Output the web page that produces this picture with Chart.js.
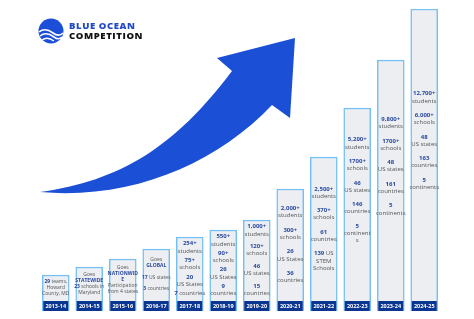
<!DOCTYPE html>
<html>
<head>
<meta charset="utf-8">
<script src="https://cdn.jsdelivr.net/npm/chart.js@4"></script>
<style>
  body { margin: 0; background: #fff; }
  #wrap { position: relative; width: 474px; height: 319px; }
  #logo { position: absolute; left: 38px; top: 18px; display: flex; align-items: center; }
  #logo .txt { margin-left: 5px; font-family: "Open Sans", sans-serif; font-weight: 800; font-size: 9.5px; line-height: 10px; letter-spacing: 0.6px; }
  #logo .l1 { color: #2148c6; }
  #logo .l2 { color: #111; }
</style>
</head>
<body>
<div id="wrap">
  <canvas id="grafico"></canvas>
  <div id="logo">
    <svg width="26" height="26" viewBox="0 0 26 26">
      <circle cx="13" cy="13" r="12.5" fill="#1d4ed8"/>
      <path d="M1 14 C6 10, 11 12, 15 15 S22 18, 25 15" stroke="#fff" stroke-width="1.6" fill="none"/>
      <path d="M2 18 C7 14, 12 16, 16 19 S22 21, 24 19" stroke="#fff" stroke-width="1.6" fill="none"/>
      <path d="M4 22 C8 19, 12 20, 16 23" stroke="#fff" stroke-width="1.4" fill="none"/>
    </svg>
    <div class="txt"><div class="l1">BLUE OCEAN</div><div class="l2">COMPETITION</div></div>
  </div>
</div>
<script>
// anos (categorias)
const anos = ['2013-14', '2014-15', '2015-16', '2016-17', '2017-18', '2018-19',
              '2019-20', '2020-21', '2021-22', '2022-23', '2023-24', '2024-25'];

// altura relativa de cada barra
const crescimento = [36, 44, 52, 62, 74, 81, 91, 122, 154, 203, 251, 302];

// textos dentro das barras ('' = linha em branco, **x** = destaque azul)
const notas = [
    ['**29** teams,', 'Howard', 'County, MD'],
    ['Goes', '**STATEWIDE**', '**23** schools in', 'Maryland'],
    ['Goes', '**NATIONWID**', '**E**', 'Participation', 'from 4 states'],
    ['Goes', '**GLOBAL**', '', '**17** US states', '', '**3** countries'],
    ['**254+**', 'students', '', '**75+**', 'schools', '', '**20**', 'US States', '', '**7** countries'],
    ['**550+**', 'students', '', '**90+**', 'schools', '', '**26**', 'US States', '', '**9**', 'countries'],
    ['**1,000+**', 'students', '', '**120+**', 'schools', '', '**46**', 'US states', '', '**15**', 'countries'],
    ['**2,000+**', 'students', '', '**300+**', 'schools', '', '**26**', 'US States', '', '**36**', 'countries'],
    ['**2,500+**', 'students', '', '**370+**', 'schools', '', '**61**', 'countries', '', '**139** US', 'STEM', 'Schools'],
    ['**5,200+**', 'students', '', '**1700+**', 'schools', '', '**46**', 'US states', '', '**146**', 'countries', '', '**5**', 'continent', 's'],
    ['**9,800+**', 'students', '', '**1700+**', 'schools', '', '**48**', 'US states', '', '**161**', 'countries', '', '**5**', 'continents'],
    ['**12,700+**', 'students', '', '**6,000+**', 'schools', '', '**48**', 'US states', '', '**163**', 'countries', '', '**5**', 'continents']
];

const FONTE = '"Open Sans", sans-serif';

// seta azul grande atras das barras
const pluginSeta = {
    id: 'seta',
    beforeDatasetsDraw(chart) {
        const ctx = chart.ctx;
        ctx.save();
        ctx.fillStyle = '#1b4fd6';
        ctx.beginPath();
        ctx.moveTo(40, 192);
        ctx.bezierCurveTo(120, 181, 175, 147, 232, 71);
        ctx.lineTo(217, 58);
        ctx.lineTo(295, 38);
        ctx.lineTo(290, 118);
        ctx.lineTo(272, 105);
        ctx.bezierCurveTo(215, 165, 130, 200, 40, 192);
        ctx.closePath();
        ctx.fill();
        ctx.restore();
    }
};

// desenha uma linha com partes em negrito azul
function linhaMista(ctx, texto, x, y, tam) {
    const partes = texto.split('**').map((t, i) => ({ t: t, b: i % 2 === 1 })).filter(p => p.t !== '');
    let total = 0;
    partes.forEach(p => {
        ctx.font = (p.b ? 'bold ' : '') + tam + 'px ' + FONTE;
        p.w = ctx.measureText(p.t).width;
        total += p.w;
    });
    let cx = x - total / 2;
    partes.forEach(p => {
        ctx.font = (p.b ? 'bold ' : '') + tam + 'px ' + FONTE;
        ctx.fillStyle = p.b ? '#2a4aa0' : '#555';
        ctx.textAlign = 'left';
        ctx.fillText(p.t, cx, y);
        cx += p.w;
    });
}

// rotulos dos anos e textos das barras
const pluginTextos = {
    id: 'textos',
    afterDatasetsDraw(chart) {
        const ctx = chart.ctx;
        const meta = chart.getDatasetMeta(0);
        ctx.save();
        ctx.textBaseline = 'middle';
        meta.data.forEach((bar, i) => {
            const w = bar.width;
            const alturaPx = bar.base - bar.y;

            // caixa do ano
            ctx.fillStyle = '#0a3590';
            ctx.fillRect(bar.x - w / 2 + 1, bar.base - 10, w - 2, 10);
            ctx.fillStyle = '#fff';
            ctx.textAlign = 'center';
            ctx.font = 'bold 5.5px ' + FONTE;
            ctx.fillText(anos[i], bar.x, bar.base - 5);

            // bloco de texto
            const linhas = notas[i];
            const tam = alturaPx < 70 ? 5 : 6;
            const lh = alturaPx < 70 ? 5.8 : 7.2;
            const topo = bar.y;
            const fundo = bar.base - 11;
            const regiao = fundo - topo;
            const nTexto = linhas.filter(l => l !== '').length;
            const nBranco = linhas.length - nTexto;
            let bh = nBranco ? (regiao - 6 - nTexto * lh) / nBranco : 0;
            bh = Math.max(1.5, Math.min(lh, bh));
            const total = nTexto * lh + nBranco * bh;
            let y = (topo + fundo) / 2 - total / 2 - (regiao > 180 ? 14 : 0);
            linhas.forEach(l => {
                if (l === '') { y += bh; return; }
                linhaMista(ctx, l, bar.x, y + lh / 2, tam);
                y += lh;
            });
        });
        ctx.restore();
    }
};

new Chart(document.getElementById('grafico'), {
    type: 'bar',
    data: {
        labels: anos,
        datasets: [{
            data: crescimento,
            backgroundColor: '#eceef2',
            borderColor: '#74c0f2',
            borderWidth: 1.5,
            barThickness: 27
        }]
    },
    options: {
        responsive: true,
        maintainAspectRatio: false,
        animation: false,
        layout: { padding: { left: 39, right: 33, top: 9, bottom: 8 } },
        plugins: { legend: { display: false }, tooltip: { enabled: false } },
        scales: {
            x: { display: false },
            y: { display: false, min: 0, max: 302 }
        }
    },
    plugins: [pluginSeta, pluginTextos]
});
</script>
</body>
</html>
